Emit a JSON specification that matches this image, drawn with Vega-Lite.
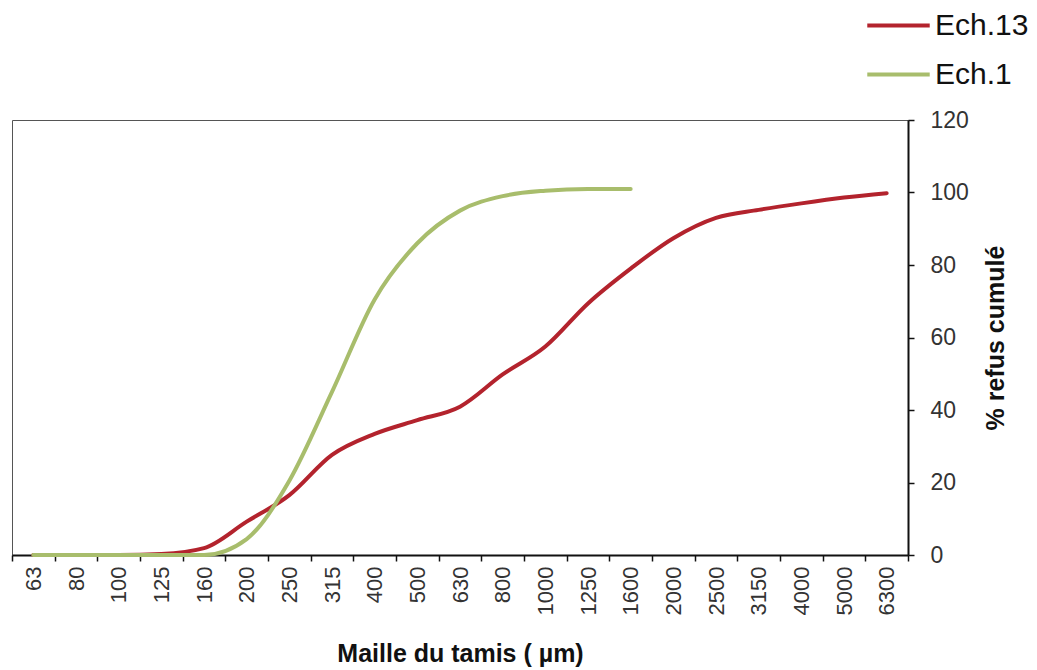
{
  "$schema": "https://vega.github.io/schema/vega-lite/v6.json",
  "autosize": {"type": "none"},
  "padding": {"left": 12, "top": 120, "right": 129, "bottom": 115},
  "width": 896,
  "height": 435,
  "background": "white",
  "config": {
    "font": "Liberation Sans",
    "view": {"stroke": "#555555", "strokeWidth": 1}
  },
  "data": {
    "values": [
      {"maille": "63", "serie": "Ech.13", "refus": 0},
      {"maille": "80", "serie": "Ech.13", "refus": 0},
      {"maille": "100", "serie": "Ech.13", "refus": 0},
      {"maille": "125", "serie": "Ech.13", "refus": 0.3},
      {"maille": "160", "serie": "Ech.13", "refus": 1.9},
      {"maille": "200", "serie": "Ech.13", "refus": 9.2},
      {"maille": "250", "serie": "Ech.13", "refus": 16.5},
      {"maille": "315", "serie": "Ech.13", "refus": 27.6},
      {"maille": "400", "serie": "Ech.13", "refus": 33.4},
      {"maille": "500", "serie": "Ech.13", "refus": 37.2},
      {"maille": "630", "serie": "Ech.13", "refus": 40.9},
      {"maille": "800", "serie": "Ech.13", "refus": 49.8},
      {"maille": "1000", "serie": "Ech.13", "refus": 57.5},
      {"maille": "1250", "serie": "Ech.13", "refus": 69.4},
      {"maille": "1600", "serie": "Ech.13", "refus": 79},
      {"maille": "2000", "serie": "Ech.13", "refus": 87.4},
      {"maille": "2500", "serie": "Ech.13", "refus": 93},
      {"maille": "3150", "serie": "Ech.13", "refus": 95.2},
      {"maille": "4000", "serie": "Ech.13", "refus": 97},
      {"maille": "5000", "serie": "Ech.13", "refus": 98.6},
      {"maille": "6300", "serie": "Ech.13", "refus": 99.8},
      {"maille": "63", "serie": "Ech.1", "refus": 0},
      {"maille": "80", "serie": "Ech.1", "refus": 0},
      {"maille": "100", "serie": "Ech.1", "refus": 0},
      {"maille": "125", "serie": "Ech.1", "refus": 0},
      {"maille": "160", "serie": "Ech.1", "refus": 0},
      {"maille": "200", "serie": "Ech.1", "refus": 4.4},
      {"maille": "250", "serie": "Ech.1", "refus": 20.5},
      {"maille": "315", "serie": "Ech.1", "refus": 45},
      {"maille": "400", "serie": "Ech.1", "refus": 70.5},
      {"maille": "500", "serie": "Ech.1", "refus": 86},
      {"maille": "630", "serie": "Ech.1", "refus": 95},
      {"maille": "800", "serie": "Ech.1", "refus": 99},
      {"maille": "1000", "serie": "Ech.1", "refus": 100.5},
      {"maille": "1250", "serie": "Ech.1", "refus": 101},
      {"maille": "1600", "serie": "Ech.1", "refus": 101}
    ]
  },
  "mark": {"type": "line", "interpolate": "monotone", "strokeWidth": 4, "strokeCap": "round"},
  "encoding": {
    "x": {
      "field": "maille",
      "type": "ordinal",
      "sort": ["63","80","100","125","160","200","250","315","400","500","630","800","1000","1250","1600","2000","2500","3150","4000","5000","6300"],
      "scale": {"paddingInner": 0, "paddingOuter": 0},
      "axis": {
        "title": "Maille du tamis ( µm)",
        "titleFontSize": 25,
        "titleFontWeight": "bold",
        "titleColor": "#111111",
        "titlePadding": 27,
        "labelAngle": -90,
        "labelFontSize": 22,
        "labelColor": "#333333",
        "labelPadding": 5,
        "tickBand": "extent",
        "tickSize": 6,
        "tickColor": "#111111",
        "tickWidth": 1.5,
        "domainColor": "#111111",
        "domainWidth": 2
      }
    },
    "y": {
      "field": "refus",
      "type": "quantitative",
      "scale": {"domain": [0, 120]},
      "axis": {
        "orient": "right",
        "values": [0, 20, 40, 60, 80, 100, 120],
        "title": "% refus cumulé",
        "titleAngle": -90,
        "titleFontSize": 25,
        "titleFontWeight": "bold",
        "titleColor": "#111111",
        "titlePadding": 40,
        "labelFontSize": 23,
        "labelColor": "#333333",
        "labelPadding": 16,
        "tickSize": 6,
        "tickColor": "#111111",
        "tickWidth": 1.5,
        "domainColor": "#111111",
        "domainWidth": 2,
        "grid": false
      }
    },
    "color": {
      "field": "serie",
      "type": "nominal",
      "scale": {"domain": ["Ech.13", "Ech.1"], "range": ["#b3232d", "#a8bd6c"]},
      "legend": {
        "title": null,
        "orient": "none",
        "legendX": 853,
        "legendY": -128,
        "symbolType": "stroke",
        "symbolSize": 3900,
        "symbolStrokeWidth": 4,
        "labelFontSize": 30,
        "labelColor": "#111111",
        "labelOffset": 3,
        "rowPadding": -14
      }
    }
  }
}
